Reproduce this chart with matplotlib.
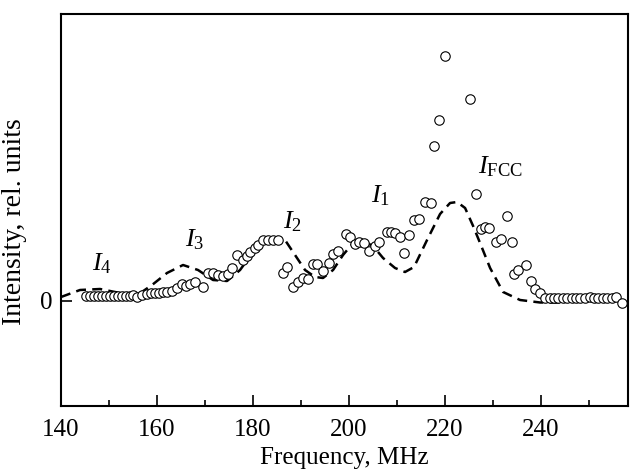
import numpy as np
import matplotlib
matplotlib.use("Agg")
import matplotlib.pyplot as plt
from matplotlib.ticker import MultipleLocator

plt.rcParams['font.family'] = ['Liberation Serif', 'DejaVu Serif']
plt.rcParams['mathtext.fontset'] = 'custom'
plt.rcParams['mathtext.rm'] = 'Liberation Serif'
plt.rcParams['mathtext.it'] = 'Liberation Serif:italic'

# measured points (open circles)
freq = [145.21, 146.04, 146.88, 147.71, 148.54, 149.38, 150.21, 151.05, 151.88, 152.71,
        153.55, 154.37, 155.00, 155.83, 156.81, 157.85, 158.69, 159.58, 160.48, 161.32,
        162.14, 163.06, 164.11, 165.15, 166.04, 166.88, 167.92, 169.52, 170.69, 171.73,
        172.77, 173.81, 174.79, 175.56, 176.60, 177.85, 178.69, 179.38, 180.41, 181.11,
        182.15, 183.19, 184.23, 185.27, 186.32, 187.08, 188.39, 189.43, 190.36, 191.52,
        192.56, 193.39, 194.64, 195.89, 196.73, 197.77, 199.38, 200.21, 201.25, 202.15,
        203.13, 204.17, 205.42, 206.26, 207.85, 208.75, 209.58, 210.62, 211.52, 212.57,
        213.61, 214.64, 215.83, 217.02, 217.65, 218.81, 220.00, 225.14, 226.35, 227.50,
        228.40, 229.23, 230.69, 231.60, 232.81, 233.85, 234.44, 235.20, 236.87, 237.81,
        238.75, 239.79, 240.83, 241.87, 242.71, 243.60, 244.52, 245.48, 246.40, 247.23,
        248.13, 249.11, 250.21, 251.10, 251.94, 252.85, 253.81, 254.73, 255.52, 256.81]
inten = [0.045, 0.045, 0.045, 0.045, 0.045, 0.045, 0.045, 0.045, 0.045, 0.045,
         0.045, 0.05, 0.06, 0.035, 0.055, 0.07, 0.077, 0.08, 0.083, 0.087,
         0.093, 0.103, 0.125, 0.17, 0.15, 0.167, 0.193, 0.143, 0.283, 0.277,
         0.26, 0.25, 0.27, 0.327, 0.46, 0.41, 0.45, 0.493, 0.527, 0.56,
         0.61, 0.61, 0.61, 0.605, 0.275, 0.343, 0.137, 0.193, 0.227, 0.22,
         0.37, 0.37, 0.303, 0.38, 0.47, 0.503, 0.665, 0.64, 0.57, 0.593,
         0.577, 0.50, 0.553, 0.587, 0.693, 0.693, 0.68, 0.637, 0.475, 0.66,
         0.81, 0.815, 0.993, 0.983, 1.547, 1.807, 2.453, 2.023, 1.065, 0.723,
         0.74, 0.733, 0.593, 0.617, 0.853, 0.592, 0.27, 0.31, 0.355, 0.198,
         0.115, 0.075, 0.027, 0.027, 0.027, 0.027, 0.027, 0.027, 0.027, 0.027,
         0.027, 0.027, 0.043, 0.027, 0.027, 0.027, 0.027, 0.027, 0.04, -0.023]

# model curve (dashed)
fit_f = [140.00, 143.96, 148.13, 152.30, 155.62, 158.96, 162.08, 165.42, 168.54, 171.67,
         174.59, 177.30, 180.01, 182.91, 185.21, 186.66, 188.33, 190.83, 192.92, 194.58,
         196.67, 198.75, 200.84, 202.92, 205.00, 207.08, 209.58, 211.66, 213.54, 216.25,
         218.96, 221.04, 222.50, 224.17, 225.84, 227.29, 229.38, 232.09, 235.62, 239.79,
         244.58]
fit_i = [0.04, 0.11, 0.12, 0.08, 0.05, 0.16, 0.28, 0.36, 0.31, 0.21,
         0.20, 0.31, 0.49, 0.61, 0.64, 0.61, 0.49, 0.31, 0.24, 0.23,
         0.31, 0.46, 0.58, 0.60, 0.55, 0.43, 0.33, 0.29, 0.34, 0.61,
         0.87, 0.98, 0.99, 0.93, 0.75, 0.58, 0.33, 0.09, 0.01, -0.015,
         -0.015]

labels = [r'$I_4$', r'$I_3$', r'$I_2$', r'$I_1$', r'$I_{\mathrm{FCC}}$']
lab_f = [148.6, 167.9, 188.2, 206.5, 231.5]
lab_i = [0.37, 0.61, 0.79, 1.05, 1.34]

fig = plt.figure(figsize=(6.34, 4.71), dpi=100)
ax = fig.add_axes([0.0962, 0.138, 0.8943, 0.8323])

ax.plot(fit_f, fit_i, color='black', ls=(0, (4, 2.5)), lw=1.8)
ax.plot(freq, inten, 'o', mfc='white', mec='black', ms=6.8, mew=0.8)

for t, x, y in zip(labels, lab_f, lab_i):
    ax.text(x, y, t, fontsize=19, ha='center', va='center')

ax.set_xlim(140, 258.1)
ax.set_ylim(-1.05, 2.87)
ax.xaxis.set_major_locator(MultipleLocator(20))
ax.xaxis.set_minor_locator(MultipleLocator(10))
ax.set_yticks([0])
ax.tick_params(axis='both', which='major', direction='in', length=8, width=1.2, labelsize=18)
ax.tick_params(axis='x', which='minor', direction='in', length=4, width=1.2)
ax.tick_params(axis='x', which='major', pad=9)
ax.tick_params(axis='y', pad=6)
for s in ax.spines.values():
    s.set_linewidth(1.5)

ax.set_xlabel('Frequency, MHz', fontsize=18, labelpad=5)
ax.set_ylabel('Intensity, rel. units', fontsize=20, labelpad=1)
ax.yaxis.set_label_coords(-0.06, 0.47)

fig.savefig('out.png', dpi=100)
